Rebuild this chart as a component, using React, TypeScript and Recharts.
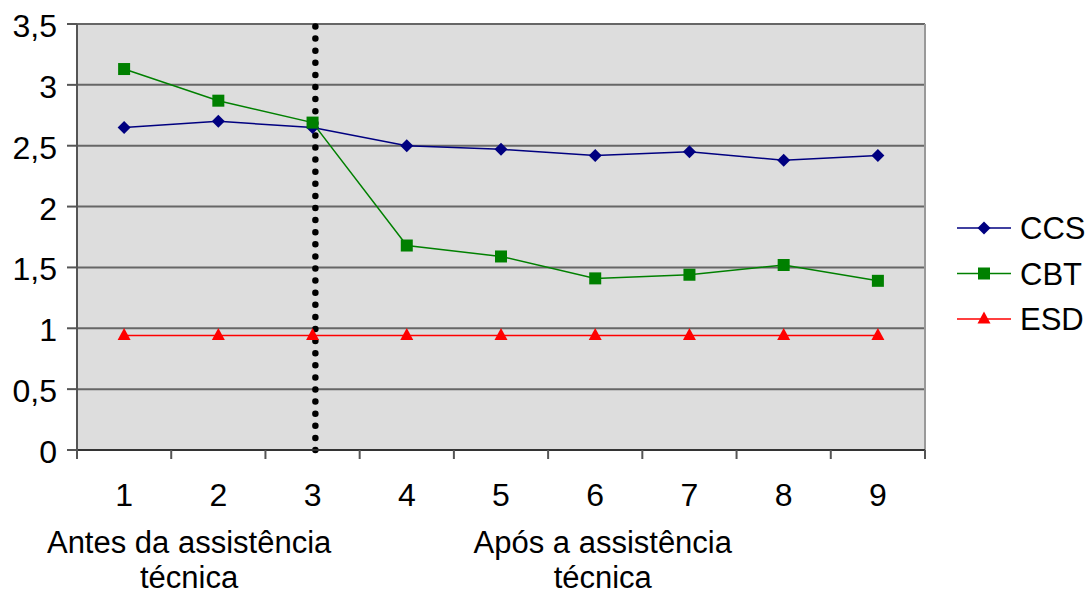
import React from "react";
import {
  LineChart,
  Line,
  XAxis,
  YAxis,
  CartesianGrid,
  ReferenceLine,
  Legend
} from "recharts";

const steps = [1, 2, 3, 4, 5, 6, 7, 8, 9];
const ccs = [2.65, 2.7, 2.65, 2.5, 2.47, 2.42, 2.45, 2.38, 2.42];
const cbt = [3.13, 2.87, 2.69, 1.68, 1.59, 1.41, 1.44, 1.52, 1.39];
const esd = [0.94, 0.94, 0.94, 0.94, 0.94, 0.94, 0.94, 0.94, 0.94];
const yTicks = [0, 0.5, 1, 1.5, 2, 2.5, 3, 3.5];
const boundaries = [0.5, 1.5, 2.5, 3.5, 4.5, 5.5, 6.5, 7.5, 8.5, 9.5];
const phaseLabels = [
  { at: 1.69, lines: ["Antes da assistência", "técnica"] },
  { at: 6.08, lines: ["Após a assistência", "técnica"] }
];
const dividerAt = 3.03;

const series = [
  { key: "CCS", color: "#000080", shape: "diamond" },
  { key: "CBT", color: "#008000", shape: "square" },
  { key: "ESD", color: "#FF0000", shape: "triangle" }
];

const data = steps.map((s, i) => ({ step: s, CCS: ccs[i], CBT: cbt[i], ESD: esd[i] }));

const FONT = "'Liberation Sans', Arial, sans-serif";
const FS = 32;

const Marker = ({ cx, cy, shape, color }: any) => {
  if (cx == null || cy == null) return null;
  if (shape === "diamond")
    return <path d={`M${cx},${cy - 6.5}L${cx + 6.5},${cy}L${cx},${cy + 6.5}L${cx - 6.5},${cy}Z`} fill={color} />;
  if (shape === "square")
    return <rect x={cx - 6} y={cy - 6} width={12} height={12} fill={color} />;
  return <path d={`M${cx},${cy - 7.5}L${cx + 6.5},${cy + 4.5}L${cx - 6.5},${cy + 4.5}Z`} fill={color} />;
};

const XTick = ({ x, y, payload }: any) => {
  const v = payload.value;
  if (boundaries.includes(v))
    return <line x1={x} x2={x} y1={y} y2={y + 9} stroke="#555" strokeWidth={2} />;
  const phase = phaseLabels.find((p) => p.at === v);
  if (phase)
    return (
      <g>
        {phase.lines.map((l, i) => (
          <text
            key={i}
            x={x}
            y={y + 103 + i * 34.5}
            textAnchor="middle"
            fontSize={31}
            fontFamily={FONT}
            fill="#000"
          >
            {l}
          </text>
        ))}
      </g>
    );
  return (
    <text x={x} y={y + 56} textAnchor="middle" fontSize={FS} fontFamily={FONT} fill="#000">
      {v}
    </text>
  );
};

const YTick = ({ x, y, payload }: any) => (
  <text x={x} y={y + 13} textAnchor="end" fontSize={FS} fontFamily={FONT} fill="#000">
    {String(payload.value).replace(".", ",")}
  </text>
);

const renderLegend = () => (
  <svg width={136} height={140}>
    {series.map((s, i) => {
      const y = 28 + i * 45.5;
      return (
        <g key={s.key}>
          <line x1={7} x2={61} y1={y} y2={y} stroke={s.color} strokeWidth={1.5} />
          <Marker cx={34} cy={y} shape={s.shape} color={s.color} />
          <text x={70} y={y + 11} fontSize={31} fontFamily={FONT} fill="#000">
            {s.key}
          </text>
        </g>
      );
    })}
  </svg>
);

export default function App() {
  return (
    <div style={{ position: "absolute", left: 0, top: 0, background: "#fff" }}>
      <LineChart
        width={1086}
        height={594}
        data={data}
        margin={{ top: 24, right: 161, bottom: 0, left: 0 }}
        style={{ fontFamily: FONT }}
      >
        <CartesianGrid vertical={false} fill="#DDDDDD" stroke="#666" strokeWidth={2} />
        <XAxis
          dataKey="step"
          type="number"
          domain={[0.5, 9.5]}
          ticks={[...boundaries, ...steps, ...phaseLabels.map((p) => p.at)]}
          interval={0}
          height={144}
          tickLine={false}
          tickSize={0}
          tickMargin={0}
          axisLine={{ stroke: "#333", strokeWidth: 2 }}
          tick={<XTick />}
        />
        <YAxis
          type="number"
          domain={[0, 3.5]}
          ticks={yTicks}
          width={77}
          tickSize={10}
          tickMargin={10}
          axisLine={{ stroke: "#555", strokeWidth: 2 }}
          tickLine={{ stroke: "#555", strokeWidth: 2 }}
          tick={<YTick />}
        />
        <ReferenceLine x={9.5} stroke="#999" strokeWidth={2} />
        {series.map((s) => (
          <Line
            key={s.key}
            dataKey={s.key}
            stroke={s.color}
            strokeWidth={1.5}
            isAnimationActive={false}
            dot={(p: any) => <Marker key={p.index} cx={p.cx} cy={p.cy} shape={s.shape} color={s.color} />}
            activeDot={false}
          />
        ))}
        <ReferenceLine
          x={dividerAt}
          stroke="#000"
          strokeWidth={6.5}
          strokeDasharray="0 12.1"
          strokeLinecap="round"
        />
        <Legend
          layout="horizontal"
          verticalAlign="middle"
          align="center"
          wrapperStyle={{ left: 950, top: 200, width: 136, height: 140 }}
          content={renderLegend}
        />
      </LineChart>
    </div>
  );
}
